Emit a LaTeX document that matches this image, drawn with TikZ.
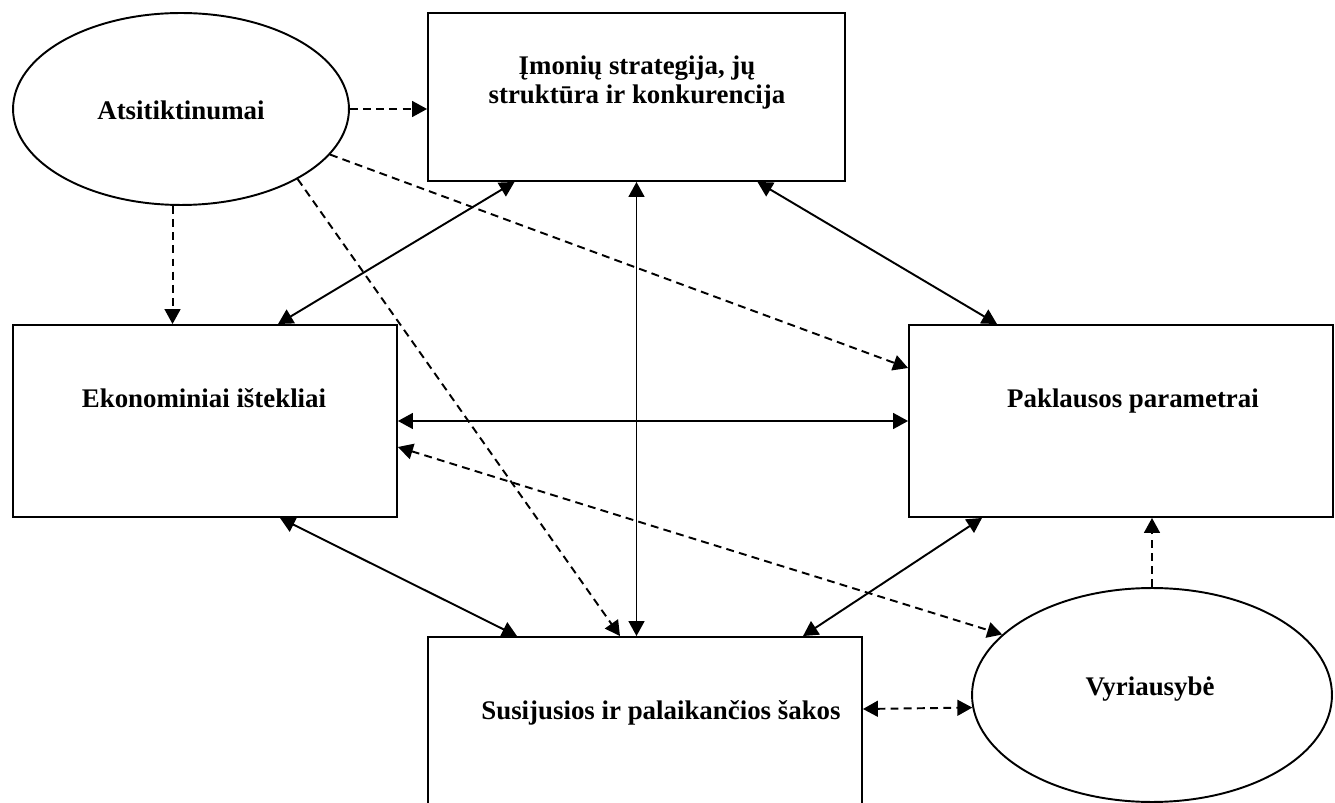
\documentclass[tikz,border=0pt]{standalone}
\usepackage{fontspec}
\setmainfont{Liberation Serif}
\usetikzlibrary{arrows.meta, shapes.geometric, calc}

\tikzset{
  >={Triangle[length=8.5pt,width=9pt]},
  blok/.style={draw, rectangle, line width=1.1pt, inner sep=0pt},
  elips/.style={draw, ellipse, line width=1.1pt, inner sep=0pt},
  tekstas/.style={font=\fontsize{15.3}{16.5}\selectfont\bfseries, inner sep=0pt, align=center},
  bruks/.style={dash pattern=on 4.5pt off 3pt},
}

\begin{document}
\begin{tikzpicture}[x=0.02cm, y=-0.02cm]
                        \useasboundingbox (0,0) rectangle (1335,803);
                        % figuros
                        \node[elips, minimum width=6.72cm, minimum height=3.84cm] (atsit) at (181, 109) {};
                        \node[blok, minimum width=8.34cm, minimum height=3.36cm] (imon) at (636.5, 97) {};
                        \node[blok, minimum width=7.68cm, minimum height=3.84cm] (ekon) at (205, 421) {};
                        \node[blok, minimum width=8.48cm, minimum height=3.84cm] (pakl) at (1121, 421) {};
                        \node[blok, minimum width=8.68cm, minimum height=3.84cm] (susij) at (645, 733) {};
                        \node[elips, minimum width=7.2cm, minimum height=4.28cm] (vyr) at (1152, 695) {};
                        % tekstai
                        \node[tekstas, anchor=base] (atsittxt) at (181, 120) {Atsitiktinumai};
                        \node[tekstas] (imontxt) at (637, 83) {Įmonių strategija, jų\\struktūra ir konkurencija};
                        \node[tekstas, anchor=base] (ekontxt) at (204, 408) {Ekonominiai ištekliai};
                        \node[tekstas, anchor=base] (pakltxt) at (1133, 408) {Paklausos parametrai};
                        \node[tekstas, anchor=base] (susijtxt) at (661, 719) {Susijusios ir palaikančios šakos};
                        \node[tekstas, anchor=base] (vyrtxt) at (1150, 695) {Vyriausybė};
                        % rysiai
                        \draw[line width=1.1pt]
                        ($(imon.south)+(-122,0)$) edge[<->] ($(ekon.north)+(73,0)$)
                        (imon.south) edge[<->] (imon.south |- susij.north)
                        ($(imon.south)+(121,0)$) edge[<->] ($(pakl.north)+(-124,0)$)
                        (ekon.east) edge[<->] (pakl.west)
                        ($(ekon.south)+(75,0)$) edge[<->] ($(susij.north)+(-128,0)$)
                        ($(pakl.south)+(-139,0)$) edge[<->] ($(susij.north)+(158,0)$)
                        (atsit.east) edge[->, bruks] (atsit.east -| imon.west)
                        (atsit.265) edge[->, bruks] (atsit.265 |- ekon.north)
                        (atsit.-17) edge[->, bruks] ($(pakl.west)+(0,-53)$)
                        (atsit.-31) edge[->, bruks] ($(susij.north)+(-25,0)$)
                        ($(ekon.east)+(0,26)$) edge[<->, bruks] (vyr.158.5)
                        ($(susij.east)+(0,-24)$) edge[<->, bruks] (vyr.184.4)
                        (vyr.north) edge[->, bruks] (vyr.north |- pakl.south);
                    \end{tikzpicture}
\end{document}
